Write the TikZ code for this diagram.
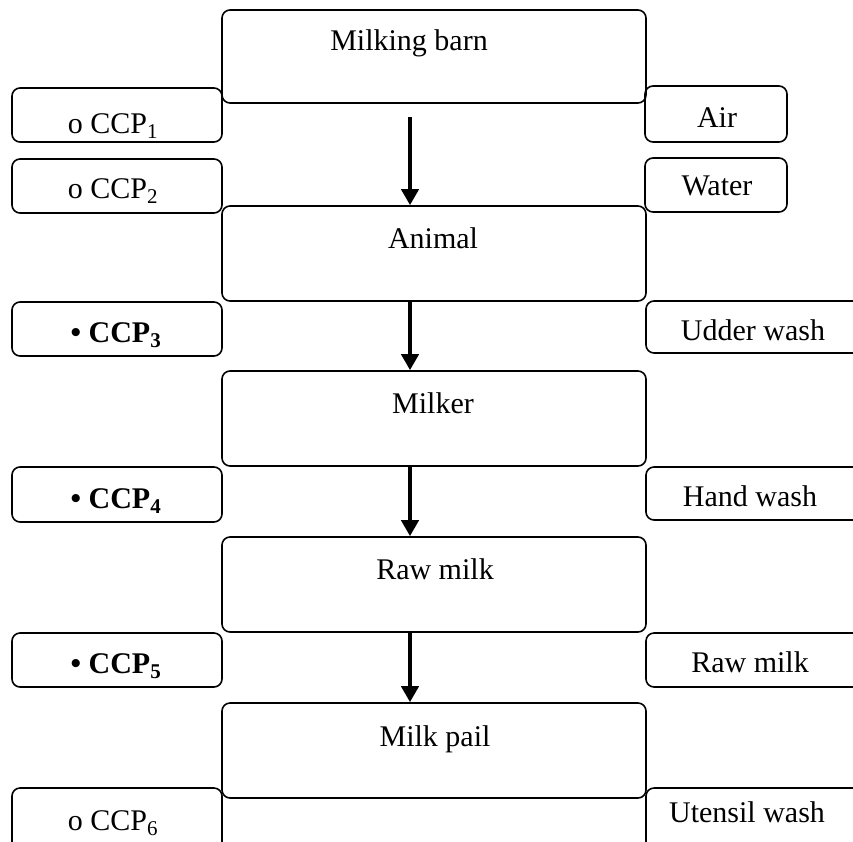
\documentclass[tikz,border=0pt]{standalone}
\usepackage{fontspec}
\setmainfont{Liberation Serif}
\usetikzlibrary{arrows.meta}
\begin{document}
\begin{tikzpicture}[x=1pt,y=-1pt,
  box/.style={draw, line width=1.6pt, rounded corners=8pt, inner sep=0pt},
  lbl/.style={font=\fontsize{30}{36}\selectfont, anchor=base, inner sep=0pt},
  flow/.style={line width=4pt, -{Triangle[length=16pt,width=17pt]}}]
\useasboundingbox (0,0) rectangle (853,841);
\clip (0,0) rectangle (853,841);

% main process steps
\node[box, minimum width=424pt, minimum height=93pt] (barn)    at (434,56.5)  {};
\node[box, minimum width=424pt, minimum height=95pt] (animal)  at (434,253.5) {};
\node[box, minimum width=424pt, minimum height=95pt] (milker)  at (434,418.5) {};
\node[box, minimum width=424pt, minimum height=95pt] (rawmilk) at (434,584.5) {};
\node[box, minimum width=424pt, minimum height=95pt] (pail)    at (434,750.5) {};

% control points (left column)
\node[box, minimum width=210pt, minimum height=54pt] (c1) at (117,115)   {};
\node[box, minimum width=210pt, minimum height=54pt] (c2) at (117,186)   {};
\node[box, minimum width=210pt, minimum height=54pt] (c3) at (117,329)   {};
\node[box, minimum width=210pt, minimum height=55pt] (c4) at (117,494.5) {};
\node[box, minimum width=210pt, minimum height=54pt] (c5) at (117,660)   {};
\node[box, minimum width=210pt, minimum height=72pt] (c6) at (117,824)   {};

% contamination sources (right column)
\node[box, minimum width=142pt, minimum height=56pt] (air)     at (716,114)   {};
\node[box, minimum width=142pt, minimum height=54pt] (water)   at (716,185)   {};
\node[box, minimum width=234pt, minimum height=52pt] (udder)   at (763,327)   {};
\node[box, minimum width=234pt, minimum height=53pt] (hand)    at (763,493.5) {};
\node[box, minimum width=234pt, minimum height=54pt] (rawsrc)  at (763,660)   {};
\node[box, minimum width=234pt, minimum height=72pt] (utensil) at (763,824)   {};

% labels of the process steps
\node[lbl] (tbarn)    at (409,50)  {Milking barn};
\node[lbl] (tanimal)  at (433,248) {Animal};
\node[lbl] (tmilker)  at (433,413) {Milker};
\node[lbl] (trawmilk) at (435,579) {Raw milk};
\node[lbl] (tpail)    at (435,746) {Milk pail};

% labels of the control points
\node[lbl] (tc1) at (113,133) {o CCP\textsubscript{1}};
\node[lbl] (tc2) at (113,198) {o CCP\textsubscript{2}};
\node[lbl] (tc3) at (116,342) {\textbf{• CCP\textsubscript{3}}};
\node[lbl] (tc4) at (116,508) {\textbf{• CCP\textsubscript{4}}};
\node[lbl] (tc5) at (116,673) {\textbf{• CCP\textsubscript{5}}};
\node[lbl] (tc6) at (113,830) {o CCP\textsubscript{6}};

% labels of the sources
\node[lbl] (tair)     at (717,127) {Air};
\node[lbl] (twater)   at (717,195) {Water};
\node[lbl] (tudder)   at (753,340) {Udder wash};
\node[lbl] (thand)    at (750,506) {Hand wash};
\node[lbl] (trawsrc)  at (750,672) {Raw milk};
\node[lbl] (tutensil) at (747,822) {Utensil wash};

% flow arrows
\coordinate (s1) at (410,117);
\draw[flow] (s1) -- (s1 |- animal.north);
\draw[flow] (animal.south -| s1) -- (milker.north -| s1);
\draw[flow] (milker.south -| s1) -- (rawmilk.north -| s1);
\draw[flow] (rawmilk.south -| s1) -- (pail.north -| s1);
\end{tikzpicture}
\end{document}
